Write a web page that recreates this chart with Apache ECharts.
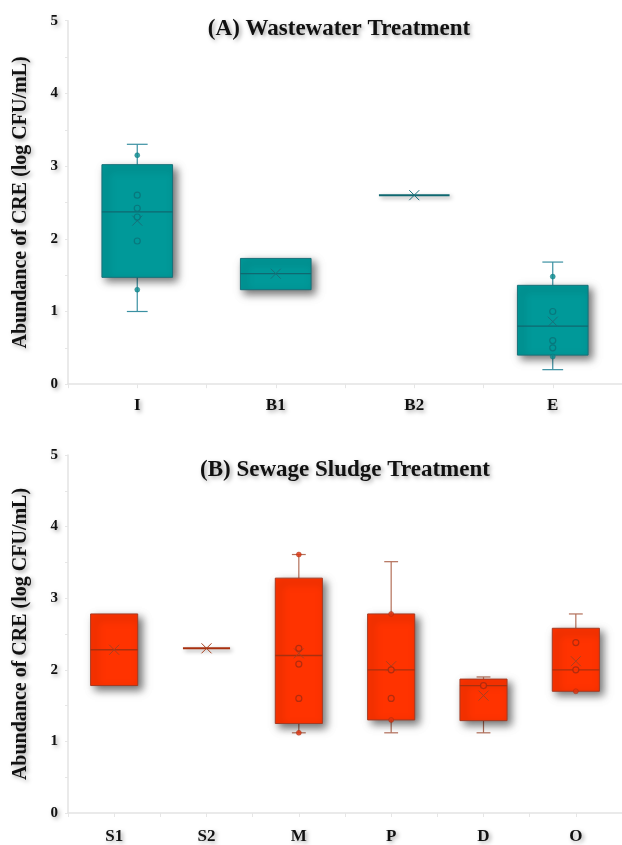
<!DOCTYPE html>
<html>
<head>
<meta charset="utf-8">
<script src="https://cdn.jsdelivr.net/npm/echarts@6/dist/echarts.min.js"></script>
<style>html,body{margin:0;padding:0;background:#fff;}#c{width:622px;height:845px;}</style>
</head>
<body>
<div id="c"></div>
<script>
// ---- Data (A) Wastewater Treatment ----
const catsA = ['I', 'B1', 'B2', 'E'];
const minA  = [1.0, 1.3, 2.6, 0.2];
const q1A   = [1.47, 1.3, 2.6, 0.4];
const medA  = [2.37, 1.52, 2.6, 0.8];
const q3A   = [3.02, 1.73, 2.6, 1.36];
const maxA  = [3.3, 1.73, 2.6, 1.68];
const meanA = [2.25, 1.52, 2.6, 0.86];
const dotsA   = [['I', 3.15], ['I', 1.3], ['E', 1.48], ['E', 0.38]];
const circlesA = [['I', 2.6], ['I', 2.42], ['I', 2.3], ['I', 1.97], ['E', 1.0], ['E', 0.6], ['E', 0.5]];

// ---- Data (B) Sewage Sludge Treatment ----
const catsB = ['S1', 'S2', 'M', 'P', 'D', 'O'];
const minB  = [1.78, 2.3, 1.12, 1.12, 1.12, 1.7];
const q1B   = [1.78, 2.3, 1.25, 1.3, 1.29, 1.7];
const medB  = [2.28, 2.3, 2.2, 2.0, 1.78, 2.0];
const q3B   = [2.78, 2.3, 3.28, 2.78, 1.87, 2.58];
const maxB  = [2.78, 2.3, 3.61, 3.51, 1.9, 2.78];
const meanB = [2.28, 2.3, 2.23, 2.05, 1.64, 2.12];
const dotsB   = [['M', 3.61], ['M', 1.12], ['P', 2.78], ['P', 1.3], ['O', 1.7]];
const circlesB = [['M', 2.3], ['M', 2.08], ['M', 1.6], ['P', 2.0], ['P', 1.6], ['D', 1.78], ['O', 2.38], ['O', 2.0]];

const yTicks = [0, 1, 2, 3, 4, 5];

const FONT = '"Liberation Serif", "DejaVu Serif", serif';
const textShadow = { textShadowColor: 'rgba(0,0,0,0.35)', textShadowBlur: 4, textShadowOffsetX: 2, textShadowOffsetY: 2 };

const teal = { fill: '#009999', stroke: '#17717a', whisker: '#3a90a2', median: '#0f6870', dot: '#0a8c90', dotBorder: '#0a7077', mean: '#18707a' };
const red  = { fill: '#ff3300', stroke: '#a53a22', whisker: '#b3705a', median: '#a8300f', dot: '#e0320c', dotBorder: '#a02a10', mean: '#a8401f' };

function boxData(cats, mn, q1, md, q3, mx, mean) {
  return cats.map((c, i) => [i, mn[i], q1[i], md[i], q3[i], mx[i], mean[i]]);
}

function makeRender(col) {
  return function (params, api) {
    const idx = api.value(0);
    const mn = api.value(1), q1 = api.value(2), md = api.value(3), q3 = api.value(4), mx = api.value(5), mean = api.value(6);
    const band = api.size([1, 0])[0];
    const hw = band * 0.255;
    const cap = band * 0.075;
    const P = v => api.coord([idx, v]);
    const cx = P(md)[0];
    const children = [];
    if (mx > q3) {
      children.push({ type: 'line', shape: { x1: cx, y1: P(q3)[1], x2: cx, y2: P(mx)[1] }, style: { stroke: col.whisker, lineWidth: 1.2 } });
      children.push({ type: 'line', shape: { x1: cx - cap, y1: P(mx)[1], x2: cx + cap, y2: P(mx)[1] }, style: { stroke: col.whisker, lineWidth: 1.2 } });
    }
    if (mn < q1) {
      children.push({ type: 'line', shape: { x1: cx, y1: P(q1)[1], x2: cx, y2: P(mn)[1] }, style: { stroke: col.whisker, lineWidth: 1.2 } });
      children.push({ type: 'line', shape: { x1: cx - cap, y1: P(mn)[1], x2: cx + cap, y2: P(mn)[1] }, style: { stroke: col.whisker, lineWidth: 1.2 } });
    }
    if (q3 > q1) {
      const yT = P(q3)[1], yB = P(q1)[1];
      children.push({
        type: 'rect', shape: { x: cx - hw, y: yT, width: 2 * hw, height: yB - yT },
        style: { fill: col.fill, stroke: col.stroke, lineWidth: 1, shadowBlur: 8, shadowOffsetX: 4, shadowOffsetY: 4, shadowColor: 'rgba(0,0,0,0.55)' }
      });
      children.push({ type: 'line', shape: { x1: cx - hw, y1: P(md)[1], x2: cx + hw, y2: P(md)[1] }, style: { stroke: col.median, lineWidth: 1.3 } });
    } else {
      children.push({
        type: 'line', shape: { x1: cx - hw, y1: P(md)[1], x2: cx + hw, y2: P(md)[1] },
        style: { stroke: col.median, lineWidth: 2, shadowBlur: 4, shadowOffsetX: 2, shadowOffsetY: 2, shadowColor: 'rgba(0,0,0,0.4)' }
      });
    }
    const my = P(mean)[1], s = 5;
    children.push({ type: 'line', shape: { x1: cx - s, y1: my - s, x2: cx + s, y2: my + s }, style: { stroke: col.mean, lineWidth: 1 } });
    children.push({ type: 'line', shape: { x1: cx - s, y1: my + s, x2: cx + s, y2: my - s }, style: { stroke: col.mean, lineWidth: 1 } });
    return { type: 'group', children: children };
  };
}

function xAxisPair(cats, gi, margin) {
  return [
    {
      type: 'category', data: cats, gridIndex: gi, boundaryGap: true,
      axisLine: { show: true, lineStyle: { color: '#e3e3e3', width: 1.5 } },
      axisTick: { show: true, interval: 0, length: 4, lineStyle: { color: '#e6e6e6' } },
      axisLabel: { color: '#111', fontFamily: FONT, fontWeight: 'bold', fontSize: 17, margin: margin, ...textShadow },
      splitLine: { show: false }
    },
    {
      type: 'category', data: cats, gridIndex: gi, position: 'bottom',
      axisLine: { show: false }, axisLabel: { show: false },
      axisTick: { show: true, alignWithLabel: true, length: 4, lineStyle: { color: '#e6e6e6' } },
      splitLine: { show: false }
    }
  ];
}

function yAxis(gi) {
  return {
    type: 'value', gridIndex: gi, min: 0, max: 5, interval: 1,
    name: 'Abundance of CRE (log CFU/mL)', nameLocation: 'middle', nameGap: 37, nameRotate: 90,
    nameTextStyle: { color: '#111', fontFamily: FONT, fontWeight: 'bold', fontSize: 20, ...textShadow },
    axisLine: { show: true, lineStyle: { color: '#e3e3e3', width: 1.5 } },
    axisTick: { show: true, length: 3, lineStyle: { color: '#e6e6e6' } },
    minorTick: { show: true, splitNumber: 2, length: 3, lineStyle: { color: '#e6e6e6' } },
    axisLabel: { color: '#111', fontFamily: FONT, fontWeight: 'bold', fontSize: 15, margin: 10, ...textShadow },
    splitLine: { show: false }
  };
}

function scatter(data, xi, yi, col, filled) {
  return {
    type: 'scatter', xAxisIndex: xi, yAxisIndex: yi, data: data, z: 5,
    symbol: 'circle', symbolSize: filled ? 5 : 6,
    itemStyle: filled ? { color: col.dot, borderColor: col.dotBorder, borderWidth: 0.5 }
                      : { color: col.fill, borderColor: col.dotBorder, borderWidth: 1.2 },
    silent: true
  };
}

const chart = echarts.init(document.getElementById('c'), null, { renderer: 'canvas' });
chart.setOption({
  animation: false,
  backgroundColor: '#ffffff',
  title: [
    { text: '(A) Wastewater Treatment', left: 334, top: 13, textAlign: 'center',
      textStyle: { color: '#111', fontFamily: FONT, fontWeight: 'bold', fontSize: 23, ...textShadow } },
    { text: '(B) Sewage Sludge Treatment', left: 340, top: 454, textAlign: 'center',
      textStyle: { color: '#111', fontFamily: FONT, fontWeight: 'bold', fontSize: 23, ...textShadow } }
  ],
  grid: [
    { left: 68, top: 20.7, width: 556, height: 363.5 },
    { left: 68, top: 455, width: 556, height: 364 }
  ],
  xAxis: [...xAxisPair(catsA, 0, 13), ...xAxisPair(catsB, 1, 15)],
  yAxis: [yAxis(0), yAxis(1)],
  series: [
    {
      type: 'custom', xAxisIndex: 0, yAxisIndex: 0, z: 2,
      data: boxData(catsA, minA, q1A, medA, q3A, maxA, meanA),
      encode: { x: 0, y: [1, 2, 3, 4, 5] },
      renderItem: makeRender(teal), silent: true
    },
    scatter(circlesA, 0, 0, teal, false),
    scatter(dotsA, 0, 0, teal, true),
    {
      type: 'custom', xAxisIndex: 2, yAxisIndex: 1, z: 2,
      data: boxData(catsB, minB, q1B, medB, q3B, maxB, meanB),
      encode: { x: 0, y: [1, 2, 3, 4, 5] },
      renderItem: makeRender(red), silent: true
    },
    scatter(circlesB, 2, 1, red, false),
    scatter(dotsB, 2, 1, red, true)
  ]
});
</script>
</body>
</html>
